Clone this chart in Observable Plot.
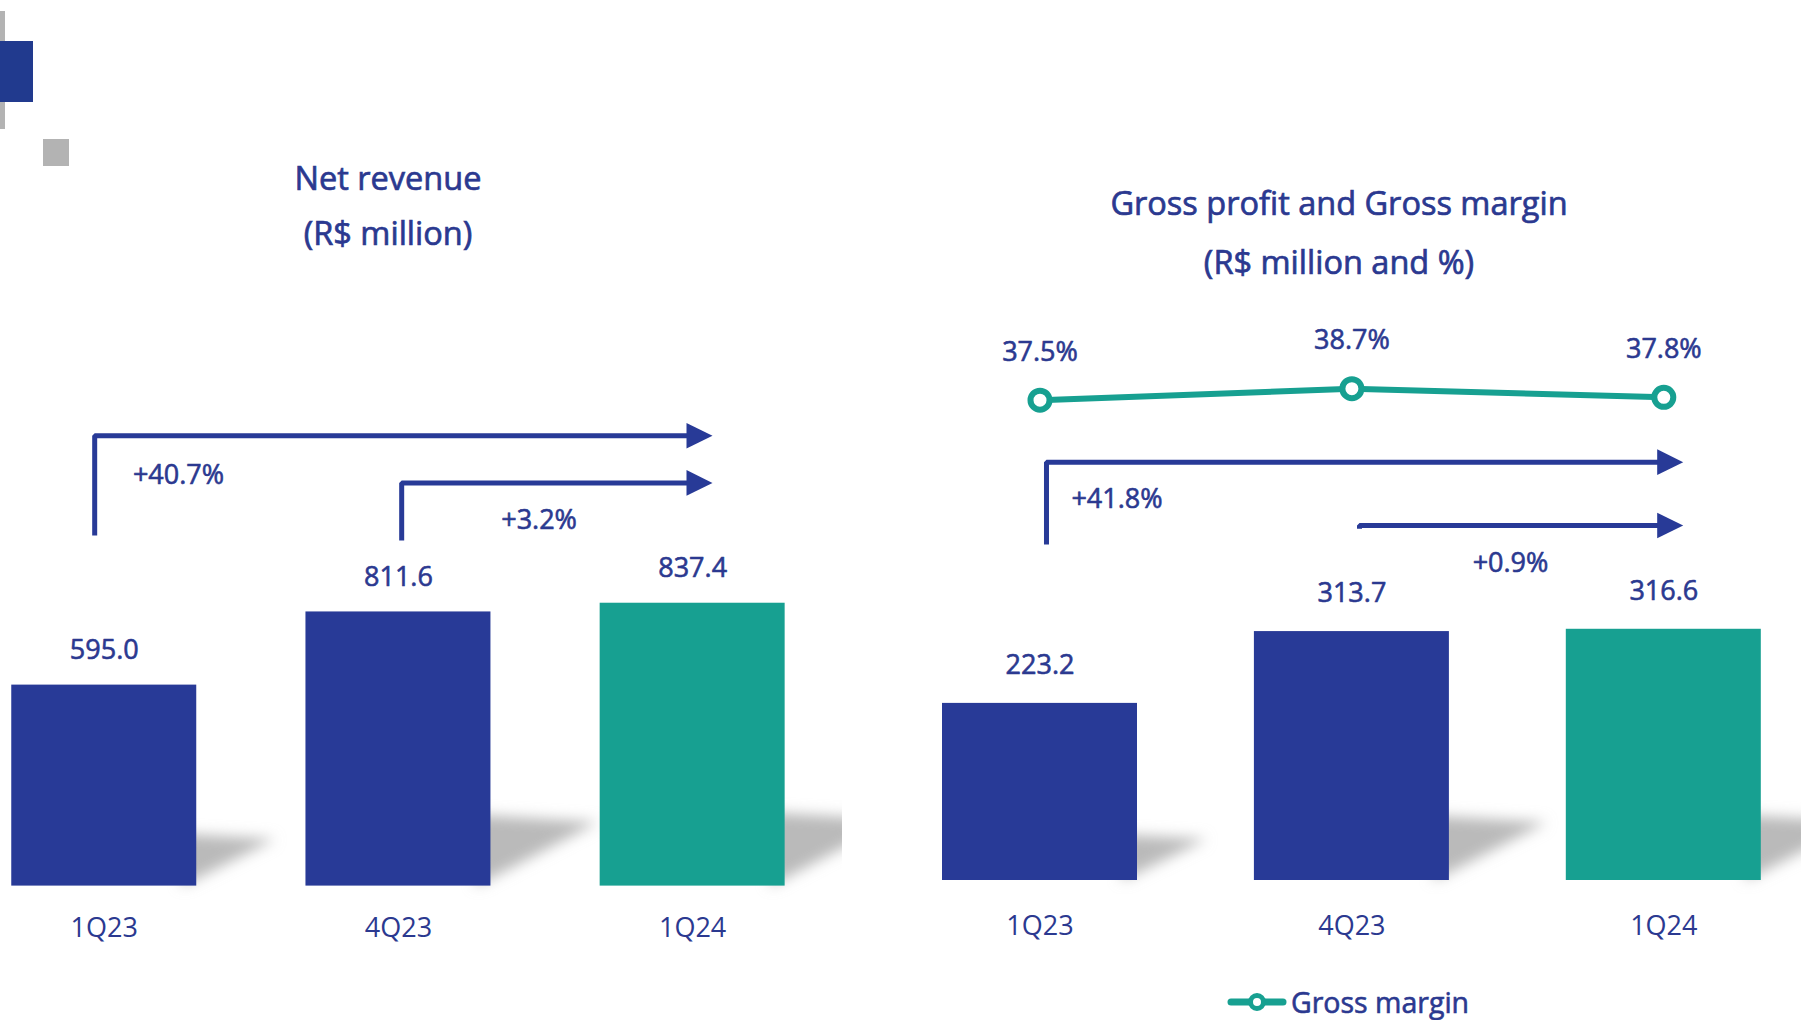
<!DOCTYPE html>
<html>
<head>
<meta charset="utf-8">
<script src="https://cdn.jsdelivr.net/npm/d3@7"></script>
<script src="https://cdn.jsdelivr.net/npm/@observablehq/plot@0.6"></script>
<style>
  html, body { margin: 0; padding: 0; background: #ffffff; }
  #page { position: relative; width: 1801px; height: 1020px; overflow: hidden; background: #ffffff;
          font-family: "Open Sans", "Noto Sans", sans-serif; color: #2B3990; }
  .abs { position: absolute; }
  .title { position: absolute; transform: translate(-50%, -50%); white-space: nowrap; font-size: 32.5px; font-weight: 400; line-height: 1; -webkit-text-stroke: 0.7px #2B3990; }
  .legend { position: absolute; display: flex; align-items: center; font-size: 28.5px; font-weight: 400; white-space: nowrap; -webkit-text-stroke: 0.6px #2B3990; }
</style>
</head>
<body>
<div id="page">
  <div class="abs" style="left:0;top:11px;width:5px;height:118px;background:#B3B3B3"></div>
  <div class="abs" style="left:0;top:41px;width:33px;height:61px;background:#213A8E"></div>
  <div class="abs" style="left:43px;top:139px;width:26px;height:27px;background:#B3B3B3"></div>

  <div class="title" style="left:388px;top:178px">Net revenue</div>
  <div class="title" style="left:388px;top:233px">(R$ million)</div>
  <div class="title" style="left:1339px;top:203px">Gross profit and Gross margin</div>
  <div class="title" style="left:1339px;top:262px">(R$ million and %)</div>

  <div class="legend" style="left:1227px;top:982px">
    <svg width="60" height="40" viewBox="0 0 60 40">
      <line x1="4" y1="20" x2="56" y2="20" stroke="#17A091" stroke-width="7" stroke-linecap="round"/>
      <circle cx="30" cy="20" r="6.5" fill="#ffffff" stroke="#17A091" stroke-width="5"/>
    </svg>
    <span style="margin-left:4px">Gross margin</span>
  </div>
</div>
<script>
// ---------------- data ----------------
const quarters = ["1Q23", "4Q23", "1Q24"];
const netRevenue = [595.0, 811.6, 837.4];
const grossProfit = [223.2, 313.7, 316.6];
const grossMargin = [37.5, 38.7, 37.8];
const revenueGrowth = [
  { from: 0, to: 2, label: "+40.7%" },
  { from: 1, to: 2, label: "+3.2%" }
];
const profitGrowth = [
  { from: 0, to: 2, label: "+41.8%" },
  { from: 1, to: 2, label: "+0.9%" }
];

// ---------------- styles / layout ----------------
const NAVY = "#283A97";
const TEAL = "#17A091";
const TEXT = "#2B3990";
const SHADOW = "#BABABA";
const barColors = [NAVY, NAVY, TEAL];
const FONT = "Open Sans, Noto Sans, sans-serif";
const FS = 27;
const textStyle = { fontSize: FS, fill: TEXT, stroke: TEXT, strokeWidth: 0.6, lineAnchor: "middle" };

const leftCfg = {
  id: "L", left: 0, width: 842, center0: 103.75, step: 294.2, half: 0.3144,
  baseline: 885.6, pxPerUnit: 0.3378, labelDy: -35, tickPadding: 32,
  headLen: 26, headHalf: 12.8,
  arrows: [
    { dx0: -0.0325, yBottom: 1038, yTop: 1333, dtip: 0.0675, dlx: 0.2524, ly: 1217 },
    { dx0: 0.011, yBottom: 1023, yTop: 1193.6, dtip: 0.0675, dlx: 0.478, ly: 1082 }
  ]
};
const rightCfg = {
  id: "R", left: 842, width: 959, center0: 197.5, step: 311.9, half: 0.3126,
  baseline: 880, pxPerUnit: 0.7935, labelDy: -38, tickPadding: 35,
  headLen: 26, headHalf: 12.8,
  arrows: [
    { dx0: 0.0208, yBottom: 423.4, yTop: 527.2, dtip: 0.0622, dlx: 0.2469, ly: 480.8 },
    { dx0: 0.0244, yBottom: 443.2, yTop: 447.4, dtip: 0.0622, dlx: 0.5085, ly: 399.5 }
  ]
};
const marginCfg = { anchorValue: 37.5, anchorPx: 399.7, pxPerPct: 9.58, labelDy: -48 };

const H = 1020;
const page = document.getElementById("page");

function xDomain(cfg) {
  return [-cfg.center0 / cfg.step, (cfg.width - cfg.center0) / cfg.step];
}

function barPanel(cfg, values, growth) {
  const data = quarters.map((q, i) => ({ i, q, v: values[i], c: barColors[i] }));
  const hl = cfg.headLen / cfg.step;
  const hh = cfg.headHalf / cfg.pxPerUnit;
  const paths = [], heads = [], labels = [];
  growth.forEach((g, k) => {
    const a = cfg.arrows[k];
    const x0 = g.from + a.dx0, tip = g.to + a.dtip, base = tip - hl;
    paths.push({ k, x: x0, y: a.yBottom }, { k, x: x0, y: a.yTop }, { k, x: base + 0.005, y: a.yTop });
    heads.push({ k, x: base, y: a.yTop + hh }, { k, x: tip, y: a.yTop }, { k, x: base, y: a.yTop - hh });
    labels.push({ x: g.from + a.dlx, y: a.ly, text: g.label });
  });
  const shadows = [];
  data.forEach(d => {
    const xr = d.i + cfg.half;
    const h = d.v * 0.26;
    const tipPx = h * cfg.pxPerUnit * 1.5;
    shadows.push(
      { i: d.i, x: xr - 0.05, y: 0 },
      { i: d.i, x: xr - 0.05, y: h },
      { i: d.i, x: xr + tipPx / cfg.step, y: h * 0.9 }
    );
  });

  const svg = Plot.plot({
    width: cfg.width, height: H,
    marginTop: 0, marginRight: 0, marginLeft: 0, marginBottom: H - cfg.baseline,
    style: { fontFamily: FONT, fontSize: FS + "px", color: TEXT, background: "transparent", overflow: "hidden" },
    x: { type: "linear", domain: xDomain(cfg) },
    y: { type: "linear", domain: [0, cfg.baseline / cfg.pxPerUnit], axis: null },
    marks: [
      Plot.line(shadows, { x: "x", y: "y", z: "i", fill: SHADOW, stroke: "none" }),
      Plot.rect(data, { x1: d => d.i - cfg.half, x2: d => d.i + cfg.half, y1: 0, y2: "v", fill: "c" }),
      Plot.text(data, { x: "i", y: "v", text: d => d.v.toFixed(1), dy: cfg.labelDy, ...textStyle }),
      Plot.line(paths, { x: "x", y: "y", z: "k", stroke: NAVY, strokeWidth: 5, strokeLinejoin: "miter", strokeLinecap: "butt" }),
      Plot.line(heads, { x: "x", y: "y", z: "k", fill: NAVY, stroke: "none" }),
      Plot.text(labels, { x: "x", y: "y", text: "text", ...textStyle }),
      Plot.axisX({ ticks: [0, 1, 2], tickFormat: i => quarters[i], tickSize: 0, tickPadding: cfg.tickPadding,
                   fontSize: FS, fill: TEXT, stroke: TEXT, strokeWidth: 0.6, label: null })
    ]
  });
  const root = d3.select(svg);
  const fid = "shadowBlur" + cfg.id;
  root.insert("defs", ":first-child")
    .append("filter").attr("id", fid)
    .attr("x", "-50%").attr("y", "-50%").attr("width", "200%").attr("height", "200%")
    .append("feGaussianBlur").attr("stdDeviation", 7);
  root.selectAll("g").filter(function () {
    const f = (this.getAttribute("fill") || "").toUpperCase();
    return f === SHADOW;
  }).attr("filter", `url(#${fid})`);
  svg.style.position = "absolute";
  svg.style.left = cfg.left + "px";
  svg.style.top = "0px";
  return svg;
}

function marginPanel(cfg) {
  const data = quarters.map((q, i) => ({ i, q, v: grossMargin[i] }));
  const lo = marginCfg.anchorValue - (H - marginCfg.anchorPx) / marginCfg.pxPerPct;
  const hi = marginCfg.anchorValue + marginCfg.anchorPx / marginCfg.pxPerPct;
  const svg = Plot.plot({
    width: cfg.width, height: H,
    marginTop: 0, marginRight: 0, marginLeft: 0, marginBottom: 0,
    style: { fontFamily: FONT, fontSize: FS + "px", color: TEXT, background: "transparent", overflow: "hidden" },
    x: { type: "linear", domain: xDomain(cfg), axis: null },
    y: { type: "linear", domain: [lo, hi], axis: null },
    marks: [
      Plot.line(data, { x: "i", y: "v", stroke: TEAL, strokeWidth: 6 }),
      Plot.dot(data, { x: "i", y: "v", r: 9.5, fill: "#ffffff", stroke: TEAL, strokeWidth: 6 }),
      Plot.text(data, { x: "i", y: "v", text: d => d.v.toFixed(1) + "%", dy: marginCfg.labelDy, ...textStyle })
    ]
  });
  svg.style.position = "absolute";
  svg.style.left = cfg.left + "px";
  svg.style.top = "0px";
  svg.style.pointerEvents = "none";
  return svg;
}

page.appendChild(barPanel(leftCfg, netRevenue, revenueGrowth));
page.appendChild(barPanel(rightCfg, grossProfit, profitGrowth));
page.appendChild(marginPanel(rightCfg));
</script>
</body>
</html>
